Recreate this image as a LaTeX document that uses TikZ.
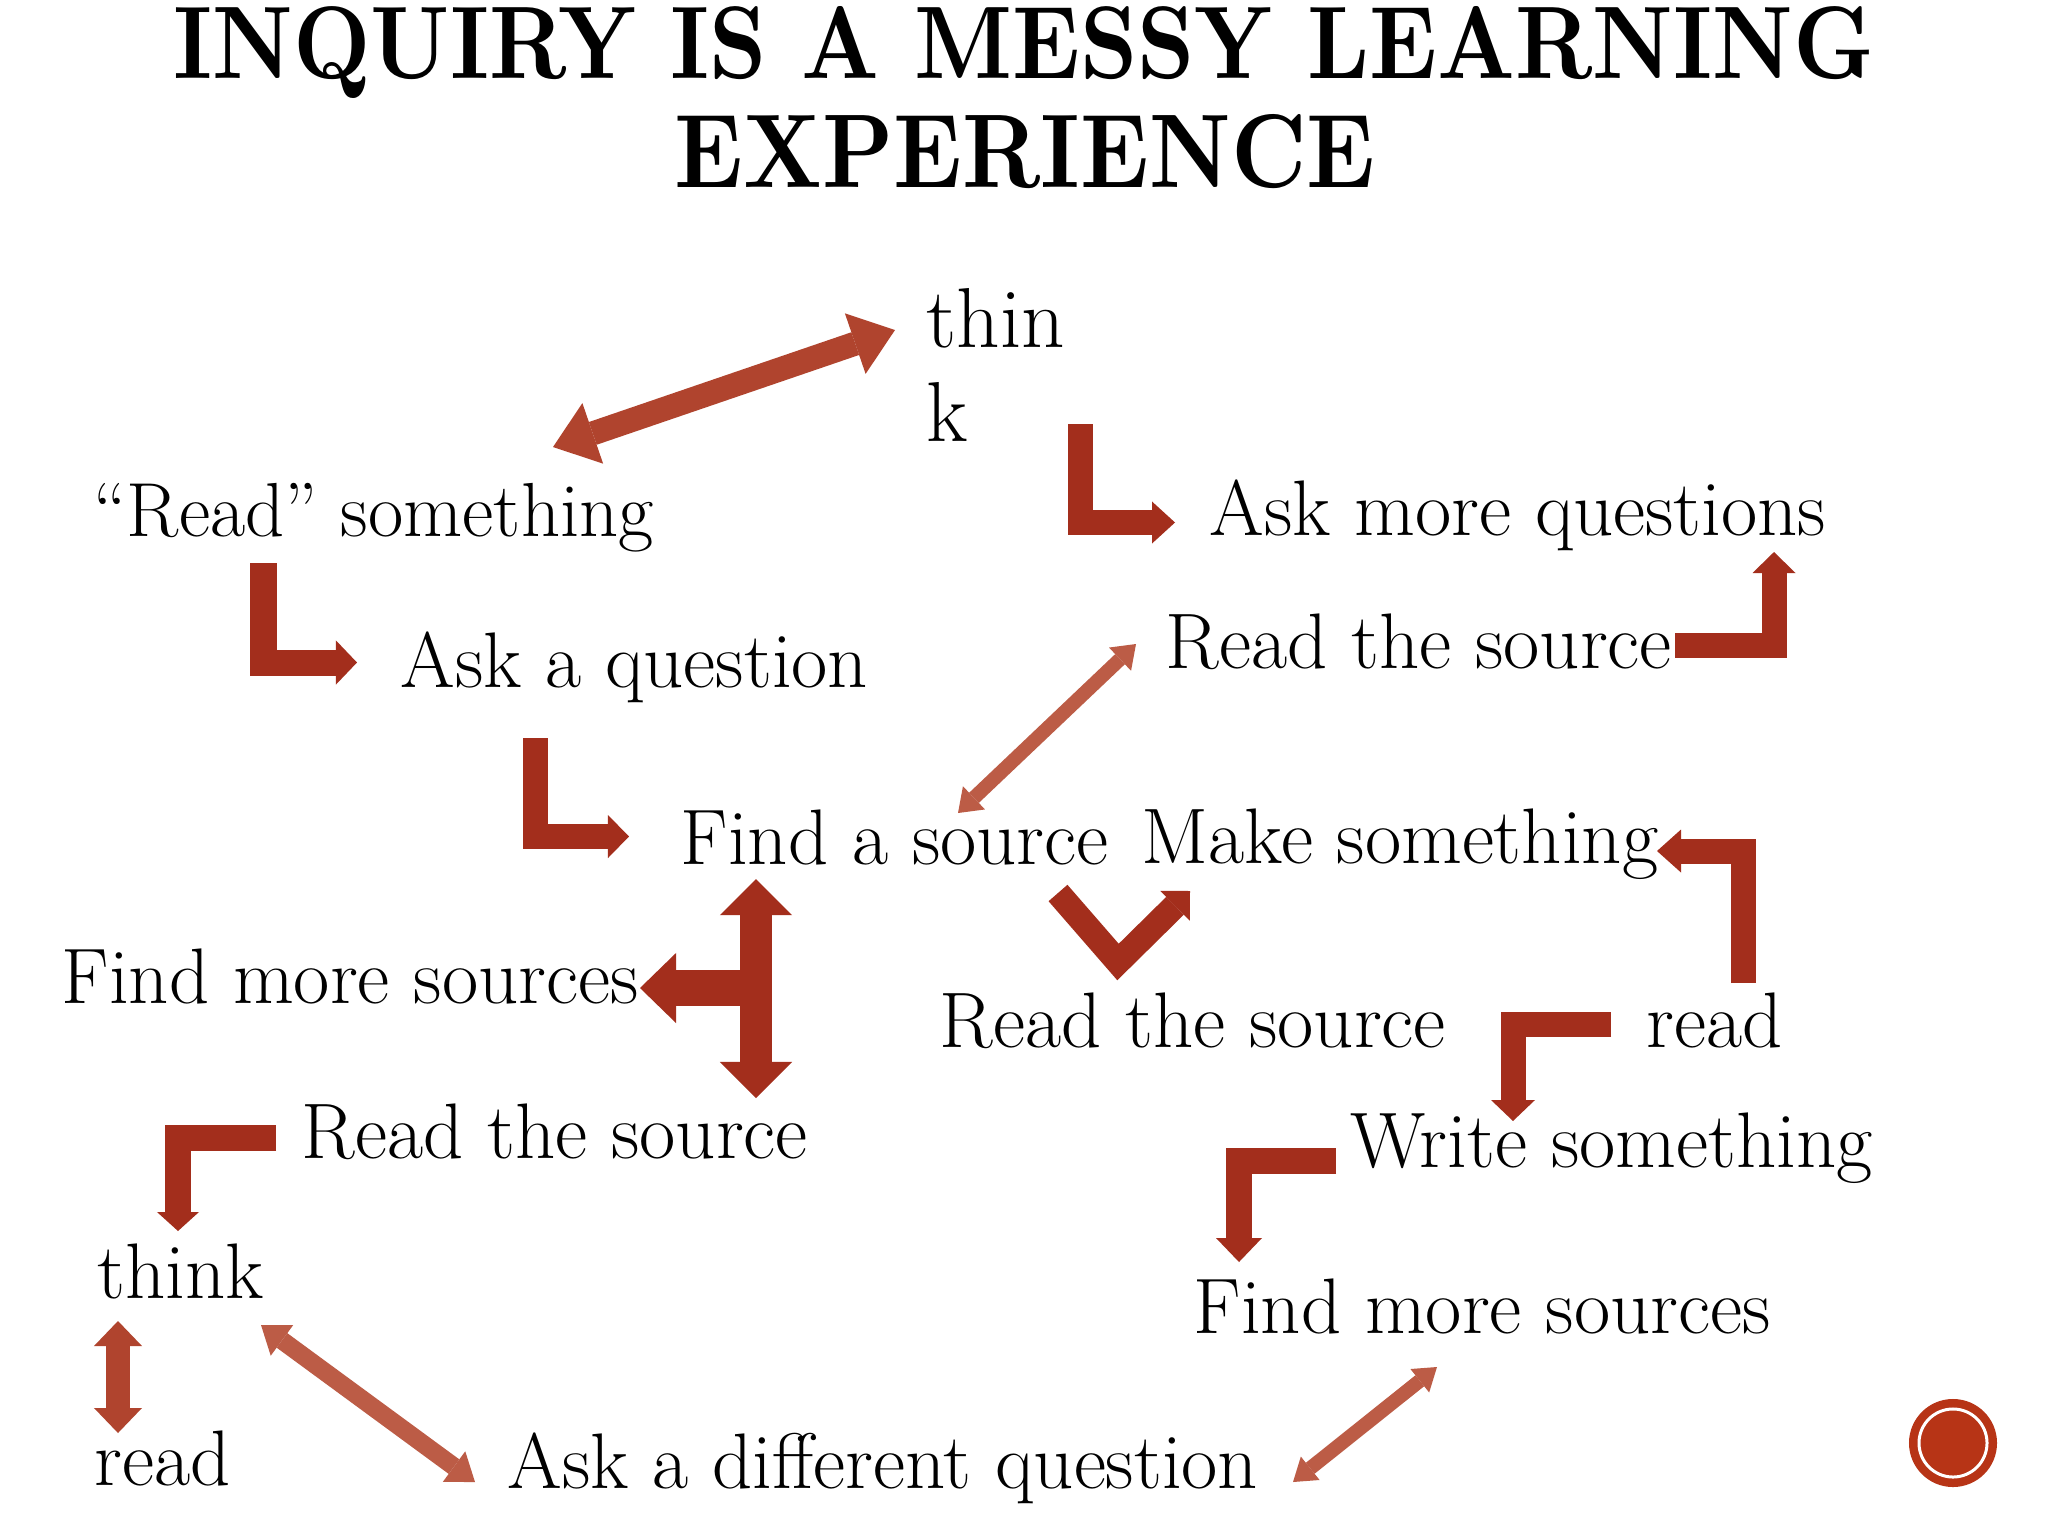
\documentclass[tikz,border=0pt]{standalone}
\usepackage{fontspec}
\usepackage{graphicx}
\usetikzlibrary{arrows.meta}
\definecolor{arrowred}{RGB}{163,46,28}
\definecolor{arrowmid}{RGB}{176,68,46}
\definecolor{arrowtex}{RGB}{188,92,70}
\definecolor{dotred}{RGB}{183,52,22}
\tikzset{
  lbl/.style={anchor=base west, inner sep=0pt, font=\fontsize{22.4pt}{26pt}\selectfont},
  blk/.style n args={4}{draw=#1, line width=#2, line join=miter,
    -{Triangle[width=#3,length=#4,line width=0pt]}},
  dbl/.style n args={4}{draw=#1, line width=#2,
    {Triangle[width=#3,length=#4,line width=0pt]}-{Triangle[width=#3,length=#4,line width=0pt]}},
}
\begin{document}
\begin{tikzpicture}[x=0.01cm,y=-0.01cm]
\useasboundingbox (0,0) rectangle (2048,1536);
\fill[white] (0,0) rectangle (2048,1536);

% title
\node[anchor=base, inner sep=0pt] (title1) at (1024,78)
  {\resizebox{17cm}{0.72cm}{\bfseries INQUIRY IS A MESSY LEARNING}};
\node[anchor=base, inner sep=0pt] (title2) at (1025,187)
  {\resizebox{7cm}{0.73cm}{\bfseries EXPERIENCE}};

% labels
\node[lbl, font=\fontsize{24.2pt}{28pt}\selectfont] (thinkA) at (926,347)
  {\vtop{\baselineskip=0.94cm \hbox{thin}\hbox{k}}};
\node[lbl, font=\fontsize{21.8pt}{26pt}\selectfont] (readsth) at (93,536) {``Read'' something};
\node[lbl] (askmore) at (1209,535) {Ask more questions};
\node[lbl] (readsrcA) at (1165,668) {Read the source};
\node[lbl] (askq) at (400,687) {Ask a question};
\node[lbl] (findsrc) at (680,864) {Find a source};
\node[lbl] (make) at (1141,863) {Make something};
\node[lbl] (findmoreA) at (61,1003) {Find more sources};
\node[lbl] (readsrcB) at (939,1047) {Read the source};
\node[lbl] (readA) at (1646,1047) {read};
\node[lbl] (readsrcC) at (301,1158) {Read the source};
\node[lbl] (write) at (1350,1167) {Write something};
\node[lbl] (thinkB) at (97,1298) {think};
\node[lbl] (findmoreB) at (1193,1333) {Find more sources};
\node[lbl] (readB) at (94,1485) {read};
\node[lbl] (askdiff) at (507,1488) {Ask a different question};

% arrow end points
\coordinate (a1) at (553,447);   \coordinate (a2) at (895,330);
\coordinate (b1) at (1080.5,424); \coordinate (b2) at (1175,522.5);
\coordinate (c1) at (263.5,563); \coordinate (c2) at (357,662.5);
\coordinate (d1) at (535.5,738); \coordinate (d2) at (629,836.5);
\coordinate (e1) at (1675,645.5); \coordinate (e2) at (1774,552);
\coordinate (f1) at (958,813);   \coordinate (f2) at (1136,644);
\coordinate (g1) at (1058,893);  \coordinate (g2) at (1118,962); \coordinate (g3) at (1190,891);
\coordinate (h1) at (1743.5,983); \coordinate (h2) at (1657,851);
\coordinate (i1) at (1611,1024); \coordinate (i2) at (1513,1121);
\coordinate (j1) at (1336,1161); \coordinate (j2) at (1239,1262);
\coordinate (k1) at (1293,1482); \coordinate (k2) at (1437,1367);
\coordinate (l1) at (756,879);   \coordinate (l2) at (756,1098);
\coordinate (l3) at (756,988);   \coordinate (l4) at (640,988);
\coordinate (m1) at (276,1137.5); \coordinate (m2) at (178,1231);
\coordinate (n1) at (118,1321);  \coordinate (n2) at (118,1433);
\coordinate (o1) at (261,1325);  \coordinate (o2) at (475,1482);

% arrows
\draw[dbl={arrowmid}{0.24cm}{0.64cm}{0.42cm}] (a1) -- (a2);
\draw[blk={arrowred}{0.25cm}{0.42cm}{0.23cm}] (b1) |- (b2);
\draw[blk={arrowred}{0.26cm}{0.44cm}{0.21cm}] (c1) |- (c2);
\draw[blk={arrowred}{0.25cm}{0.43cm}{0.21cm}] (d1) |- (d2);
\draw[blk={arrowred}{0.25cm}{0.43cm}{0.21cm}] (e1) -| (e2);
\draw[dbl={arrowtex}{0.14cm}{0.32cm}{0.22cm}] (f1) -- (f2);
\draw[blk={arrowred}{0.25cm}{0.42cm}{0.21cm}] (g1) -- (g2) -- (g3);
\draw[blk={arrowred}{0.25cm}{0.43cm}{0.24cm}] (h1) |- (h2);
\draw[blk={arrowred}{0.25cm}{0.44cm}{0.21cm}] (i1) -| (i2);
\draw[blk={arrowred}{0.26cm}{0.46cm}{0.24cm}] (j1) -| (j2);
\draw[dbl={arrowtex}{0.14cm}{0.30cm}{0.22cm}] (k1) -- (k2);
\draw[blk={arrowred}{0.36cm}{0.70cm}{0.36cm}] (l3) -- (l4);
\draw[dbl={arrowred}{0.32cm}{0.72cm}{0.36cm}] (l1) -- (l2);
\draw[blk={arrowred}{0.26cm}{0.42cm}{0.19cm}] (m1) -| (m2);
\draw[dbl={arrowmid}{0.24cm}{0.48cm}{0.25cm}] (n1) -- (n2);
\draw[dbl={arrowtex}{0.18cm}{0.38cm}{0.26cm}] (o1) -- (o2);

% corner badge
\node[circle, fill=dotred, minimum size=0.88cm, inner sep=0pt] (badge) at (1953,1443) {};
\draw[white, line width=0.03cm] (badge.center) circle[radius=0.34cm];
\end{tikzpicture}
\end{document}
